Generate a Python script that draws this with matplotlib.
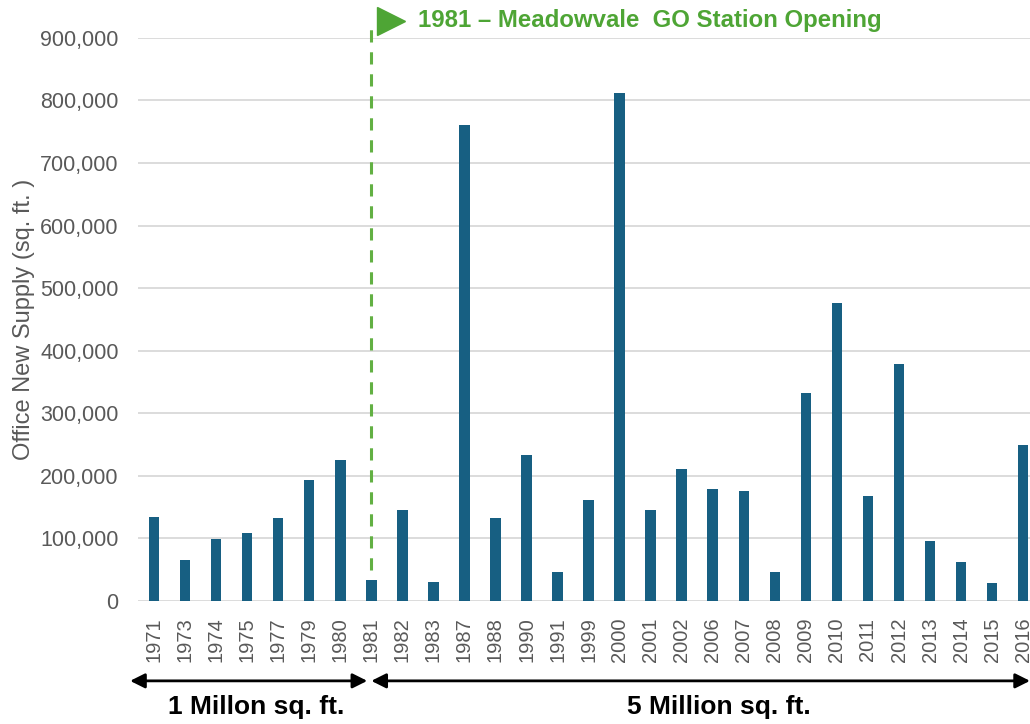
import matplotlib
matplotlib.use("Agg")
import matplotlib.pyplot as plt
import matplotlib.transforms as mtransforms
from matplotlib.ticker import FuncFormatter

plt.rcParams['font.family'] = ['Liberation Sans', 'DejaVu Sans']

years = ['1971', '1973', '1974', '1975', '1977', '1979', '1980', '1981', '1982',
         '1983', '1987', '1988', '1990', '1991', '1999', '2000', '2001', '2002',
         '2006', '2007', '2008', '2009', '2010', '2011', '2012', '2013', '2014',
         '2015', '2016']
supply = [134000, 66000, 99000, 108000, 132000, 193000, 226000, 33000, 146000,
          30000, 761000, 133000, 234000, 47000, 162000, 812000, 145000, 211000,
          179000, 176000, 47000, 332000, 476000, 167000, 379000, 96000, 63000,
          28000, 249000]
yticks = [0, 100000, 200000, 300000, 400000, 500000, 600000, 700000, 800000, 900000]

event_label = '1981 \u2013 Meadowvale  GO Station Opening'
period_labels = ['1 Millon sq. ft.', '5 Million sq. ft.']
event_idx = years.index('1981')

bar_color = '#175f82'
green = '#4ea535'
grey = '#595959'

fig = plt.figure(figsize=(10.30, 7.24), dpi=100)
ax = fig.add_axes([0.134, 0.170, 0.866, 0.7776])

x = list(range(len(years)))
ax.bar(x, supply, width=0.34, color=bar_color, zorder=3)

ax.set_xlim(-0.515, 28.22)
ax.set_ylim(0, 900000)
ax.set_yticks(yticks)
ax.yaxis.set_major_formatter(FuncFormatter(lambda v, p: f'{int(v):,}'))
ax.set_xticks(x)
ax.set_xticklabels(years, rotation=90)
ax.tick_params(axis='y', length=0, pad=14, labelsize=15.5, labelcolor=grey)
ax.tick_params(axis='x', length=0, pad=12, labelsize=14.5, labelcolor=grey)
ax.grid(axis='y', color='#d9d9d9', lw=1.3, zorder=0)
for s in ax.spines.values():
    s.set_visible(False)

ax.set_ylabel('Office New Supply (sq. ft. )', fontsize=17, color=grey, labelpad=4)

# station opening marker
ax.plot([event_idx, event_idx], [50000, 925000], ls=(0, (4, 3.2)), color='#62b043',
        lw=2.2, clip_on=False, zorder=4)
ax.plot([event_idx + 0.64], [927000], marker='>', markersize=20, color=green,
        clip_on=False, zorder=5)
ax.text(event_idx + 1.5, 928000, event_label, color=green, fontsize=17.3,
        fontweight='bold', va='center', ha='left', clip_on=False)

# period arrows below the axis
trans = mtransforms.blended_transform_factory(ax.transData, ax.transAxes)
arrow_kw = dict(arrowstyle='<|-|>', color='black', lw=2, mutation_scale=22,
                shrinkA=0, shrinkB=0)
ax.annotate('', xy=(-0.77, -0.142), xytext=(event_idx - 0.13, -0.142),
            xycoords=trans, textcoords=trans, arrowprops=arrow_kw,
            annotation_clip=False)
ax.annotate('', xy=(event_idx + 0.0, -0.142), xytext=(28.22, -0.142),
            xycoords=trans, textcoords=trans, arrowprops=arrow_kw,
            annotation_clip=False)
ax.text(3.3, -0.188, period_labels[0], transform=trans, fontsize=19,
        fontweight='bold', ha='center', va='center', color='black')
ax.text(18.2, -0.188, period_labels[1], transform=trans, fontsize=19,
        fontweight='bold', ha='center', va='center', color='black')

fig.savefig('out.png', dpi=100)
